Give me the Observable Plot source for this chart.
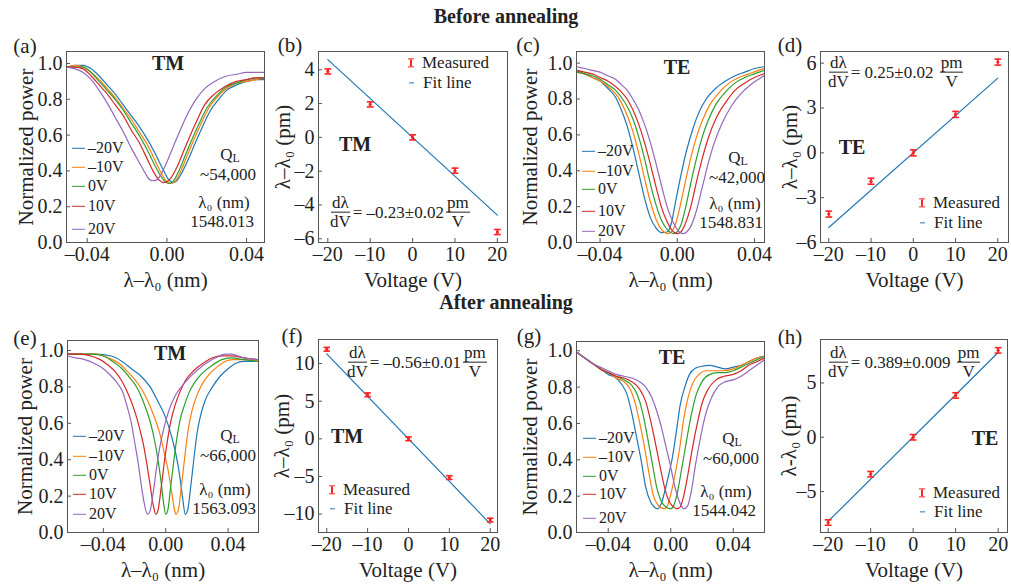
<!DOCTYPE html>
<html><head><meta charset="utf-8">
<script src="https://cdn.jsdelivr.net/npm/d3@7"></script>
<script src="https://cdn.jsdelivr.net/npm/@observablehq/plot@0.6"></script>
<style>
body{margin:0;background:#fff;}
#fig{position:relative;width:1011px;height:586px;overflow:hidden;font-family:"Liberation Serif","Times New Roman",serif;color:#222;background:#fff;}
.n{position:absolute;white-space:nowrap;line-height:0.9;}
.b{font-weight:bold;}
.frac{display:inline-flex;flex-direction:column;align-items:center;line-height:1.05;}
.frac>span:first-child{border-bottom:1px solid #222;padding:0 1px;}
.eq{display:flex;align-items:center;gap:2px;}
.sw{display:inline-block;width:13px;height:0;border-top:1.5px solid;vertical-align:middle;margin-right:3px;position:relative;top:-1px;}
.lg{display:flex;align-items:center;}
.eb{display:inline-block;width:6px;height:7px;border-top:1.5px solid #f22;border-bottom:1.5px solid #f22;position:relative;margin-right:8px;}
.eb:after{content:"";position:absolute;left:2.2px;top:0;width:1.6px;height:7px;background:#f22;}
.fl{display:inline-block;width:5px;border-top:1.5px solid #1f77b4;margin-right:9px;margin-left:1px;}
sub{font-size:0.7em;vertical-align:-0.15em;line-height:0;}
</style></head><body><div id="fig"></div>
<script>
// ---------- data ----------
const voltLabels = ["–20V", "–10V", "0V", "10V", "20V"];
const seriesColors = ["#1f77b4", "#ff7f0e", "#2ca02c", "#d62728", "#9467bd"];

// (a) TM, before annealing: [λ–λ0 (nm), normalized power]
const a_m20 = [[-0.050,0.98],[-0.046,0.99],[-0.042,0.99],[-0.038,0.97],[-0.034,0.93],[-0.030,0.88],[-0.026,0.83],[-0.022,0.77],[-0.018,0.71],[-0.014,0.65],[-0.010,0.58],[-0.006,0.50],[-0.002,0.41],[0.001,0.35],[0.003,0.335],[0.005,0.345],[0.008,0.40],[0.011,0.47],[0.014,0.55],[0.018,0.65],[0.022,0.74],[0.026,0.80],[0.030,0.85],[0.035,0.88],[0.040,0.90],[0.045,0.91],[0.049,0.91]];
const a_m10 = [[-0.050,0.98],[-0.046,0.99],[-0.042,0.98],[-0.038,0.95],[-0.034,0.91],[-0.030,0.86],[-0.026,0.81],[-0.022,0.75],[-0.018,0.69],[-0.014,0.62],[-0.010,0.55],[-0.006,0.46],[-0.003,0.39],[0.000,0.34],[0.002,0.33],[0.004,0.34],[0.007,0.40],[0.010,0.48],[0.013,0.56],[0.017,0.66],[0.021,0.75],[0.025,0.81],[0.030,0.86],[0.035,0.89],[0.040,0.90],[0.045,0.91],[0.049,0.92]];
const a_0 = [[-0.050,0.98],[-0.046,0.98],[-0.042,0.98],[-0.038,0.95],[-0.034,0.90],[-0.030,0.85],[-0.026,0.80],[-0.022,0.74],[-0.018,0.67],[-0.014,0.60],[-0.010,0.52],[-0.006,0.43],[-0.003,0.37],[-0.001,0.34],[0.001,0.33],[0.003,0.34],[0.006,0.40],[0.009,0.48],[0.012,0.56],[0.016,0.66],[0.020,0.75],[0.025,0.82],[0.030,0.87],[0.035,0.89],[0.040,0.91],[0.045,0.92],[0.049,0.92]];
const a_p10 = [[-0.050,0.98],[-0.046,0.98],[-0.042,0.97],[-0.038,0.93],[-0.034,0.88],[-0.030,0.83],[-0.026,0.77],[-0.022,0.71],[-0.018,0.63],[-0.014,0.56],[-0.010,0.47],[-0.007,0.40],[-0.004,0.35],[-0.002,0.335],[0.000,0.34],[0.002,0.36],[0.005,0.42],[0.008,0.50],[0.011,0.58],[0.015,0.68],[0.019,0.77],[0.024,0.83],[0.029,0.87],[0.035,0.90],[0.040,0.91],[0.045,0.92],[0.049,0.92]];
const a_p20 = [[-0.050,0.98],[-0.046,0.97],[-0.042,0.95],[-0.038,0.91],[-0.034,0.85],[-0.030,0.78],[-0.026,0.70],[-0.022,0.62],[-0.018,0.53],[-0.014,0.45],[-0.011,0.39],[-0.009,0.355],[-0.007,0.345],[-0.005,0.35],[-0.003,0.38],[0.000,0.45],[0.003,0.53],[0.006,0.61],[0.010,0.71],[0.014,0.79],[0.019,0.86],[0.024,0.90],[0.030,0.93],[0.035,0.94],[0.040,0.95],[0.045,0.95],[0.049,0.95]];

// (c) TE, before annealing
const c_m20 = [[-0.052,0.96],[-0.048,0.94],[-0.044,0.92],[-0.040,0.90],[-0.036,0.86],[-0.032,0.81],[-0.029,0.74],[-0.026,0.65],[-0.023,0.53],[-0.020,0.39],[-0.017,0.25],[-0.014,0.14],[-0.011,0.08],[-0.008,0.055],[-0.005,0.06],[-0.003,0.11],[-0.001,0.22],[0.002,0.38],[0.005,0.52],[0.008,0.63],[0.011,0.72],[0.015,0.80],[0.020,0.86],[0.025,0.90],[0.030,0.93],[0.035,0.95],[0.040,0.97],[0.045,0.98]];
const c_m10 = [[-0.052,0.95],[-0.048,0.94],[-0.044,0.92],[-0.040,0.90],[-0.036,0.87],[-0.032,0.83],[-0.029,0.78],[-0.026,0.71],[-0.023,0.62],[-0.020,0.50],[-0.017,0.36],[-0.014,0.23],[-0.011,0.13],[-0.008,0.07],[-0.005,0.05],[-0.003,0.06],[-0.001,0.10],[0.001,0.18],[0.004,0.33],[0.007,0.47],[0.010,0.59],[0.013,0.68],[0.017,0.77],[0.022,0.84],[0.027,0.89],[0.032,0.92],[0.037,0.94],[0.042,0.96],[0.045,0.97]];
const c_0 = [[-0.052,0.95],[-0.048,0.94],[-0.044,0.93],[-0.040,0.91],[-0.036,0.88],[-0.032,0.85],[-0.029,0.81],[-0.026,0.76],[-0.023,0.69],[-0.020,0.59],[-0.017,0.47],[-0.014,0.33],[-0.011,0.21],[-0.008,0.12],[-0.005,0.07],[-0.002,0.05],[0.000,0.06],[0.002,0.10],[0.004,0.18],[0.007,0.33],[0.010,0.47],[0.013,0.59],[0.016,0.68],[0.020,0.77],[0.025,0.84],[0.030,0.89],[0.035,0.92],[0.040,0.94],[0.045,0.96]];
const c_p10 = [[-0.052,0.96],[-0.048,0.95],[-0.044,0.94],[-0.040,0.92],[-0.036,0.90],[-0.032,0.87],[-0.029,0.84],[-0.026,0.80],[-0.023,0.74],[-0.020,0.66],[-0.017,0.56],[-0.014,0.44],[-0.011,0.31],[-0.008,0.19],[-0.005,0.11],[-0.002,0.06],[0.000,0.05],[0.002,0.06],[0.004,0.10],[0.007,0.20],[0.010,0.34],[0.013,0.47],[0.016,0.58],[0.020,0.69],[0.025,0.78],[0.030,0.85],[0.035,0.89],[0.040,0.92],[0.045,0.94]];
const c_p20 = [[-0.052,0.98],[-0.048,0.97],[-0.044,0.96],[-0.040,0.95],[-0.036,0.93],[-0.032,0.91],[-0.029,0.88],[-0.026,0.85],[-0.023,0.80],[-0.020,0.74],[-0.017,0.66],[-0.014,0.56],[-0.011,0.44],[-0.008,0.31],[-0.005,0.19],[-0.002,0.11],[0.001,0.06],[0.003,0.05],[0.005,0.06],[0.007,0.09],[0.010,0.18],[0.013,0.31],[0.016,0.44],[0.019,0.55],[0.023,0.66],[0.028,0.76],[0.033,0.83],[0.038,0.88],[0.042,0.91],[0.045,0.93]];

// (e) TM, after annealing
const e_m20 = [[-0.063,0.98],[-0.055,0.98],[-0.045,0.98],[-0.035,0.97],[-0.028,0.94],[-0.022,0.90],[-0.016,0.86],[-0.010,0.80],[-0.005,0.72],[0.000,0.63],[0.004,0.52],[0.007,0.41],[0.009,0.31],[0.011,0.18],[0.0125,0.10],[0.014,0.12],[0.016,0.25],[0.018,0.40],[0.020,0.54],[0.022,0.63],[0.025,0.72],[0.030,0.80],[0.035,0.86],[0.040,0.90],[0.045,0.93],[0.050,0.94],[0.0595,0.94]];
const e_m10 = [[-0.063,0.98],[-0.055,0.98],[-0.045,0.98],[-0.037,0.96],[-0.030,0.93],[-0.024,0.88],[-0.018,0.82],[-0.013,0.75],[-0.008,0.65],[-0.004,0.55],[-0.001,0.44],[0.002,0.32],[0.004,0.21],[0.0055,0.13],[0.0065,0.10],[0.008,0.12],[0.010,0.25],[0.012,0.40],[0.014,0.54],[0.016,0.64],[0.019,0.73],[0.023,0.81],[0.028,0.87],[0.033,0.91],[0.038,0.94],[0.043,0.95],[0.050,0.95],[0.0595,0.94]];
const e_0 = [[-0.063,0.98],[-0.055,0.98],[-0.047,0.98],[-0.040,0.97],[-0.034,0.94],[-0.028,0.90],[-0.023,0.85],[-0.018,0.79],[-0.014,0.71],[-0.010,0.61],[-0.007,0.50],[-0.005,0.40],[-0.003,0.28],[-0.0015,0.17],[0.000,0.10],[0.0015,0.13],[0.003,0.24],[0.005,0.38],[0.007,0.51],[0.009,0.61],[0.012,0.70],[0.015,0.77],[0.019,0.83],[0.024,0.88],[0.030,0.92],[0.036,0.95],[0.042,0.96],[0.050,0.95],[0.0595,0.94]];
const e_p10 = [[-0.063,0.98],[-0.055,0.98],[-0.048,0.97],[-0.042,0.95],[-0.037,0.92],[-0.032,0.88],[-0.028,0.83],[-0.024,0.76],[-0.020,0.67],[-0.017,0.58],[-0.014,0.47],[-0.012,0.37],[-0.010,0.26],[-0.008,0.15],[-0.0063,0.10],[-0.005,0.12],[-0.003,0.24],[-0.001,0.38],[0.001,0.50],[0.003,0.60],[0.006,0.70],[0.009,0.77],[0.013,0.84],[0.018,0.89],[0.024,0.93],[0.030,0.96],[0.036,0.97],[0.042,0.97],[0.050,0.96],[0.0595,0.95]];
const e_p20 = [[-0.063,0.97],[-0.058,0.96],[-0.052,0.95],[-0.046,0.93],[-0.040,0.90],[-0.035,0.86],[-0.031,0.82],[-0.028,0.78],[-0.025,0.70],[-0.022,0.60],[-0.020,0.50],[-0.018,0.40],[-0.016,0.28],[-0.014,0.17],[-0.0117,0.10],[-0.010,0.12],[-0.008,0.22],[-0.006,0.35],[-0.004,0.46],[-0.001,0.58],[0.002,0.67],[0.006,0.75],[0.010,0.80],[0.015,0.85],[0.020,0.89],[0.026,0.93],[0.032,0.96],[0.038,0.98],[0.042,0.98],[0.050,0.96],[0.0595,0.95]];

// (g) TE, after annealing
const g_m20 = [[-0.060,0.99],[-0.055,0.96],[-0.050,0.93],[-0.045,0.90],[-0.040,0.87],[-0.035,0.85],[-0.031,0.81],[-0.028,0.76],[-0.025,0.66],[-0.022,0.53],[-0.019,0.40],[-0.016,0.25],[-0.013,0.17],[-0.0105,0.14],[-0.0085,0.13],[-0.006,0.16],[-0.004,0.22],[-0.001,0.33],[0.001,0.41],[0.004,0.58],[0.006,0.70],[0.009,0.80],[0.012,0.87],[0.016,0.905],[0.020,0.915],[0.025,0.92],[0.030,0.91],[0.035,0.90],[0.040,0.91],[0.045,0.92],[0.050,0.94],[0.055,0.96],[0.060,0.97]];
const g_m10 = [[-0.060,0.99],[-0.055,0.96],[-0.050,0.93],[-0.045,0.90],[-0.040,0.88],[-0.035,0.85],[-0.030,0.83],[-0.026,0.79],[-0.023,0.72],[-0.020,0.61],[-0.017,0.48],[-0.014,0.33],[-0.011,0.20],[-0.008,0.15],[-0.004,0.13],[-0.002,0.15],[0.000,0.21],[0.003,0.33],[0.006,0.48],[0.008,0.61],[0.011,0.74],[0.014,0.82],[0.018,0.87],[0.023,0.89],[0.028,0.89],[0.033,0.89],[0.040,0.90],[0.045,0.92],[0.050,0.94],[0.055,0.96],[0.060,0.97]];
const g_0 = [[-0.060,0.99],[-0.055,0.96],[-0.050,0.93],[-0.045,0.90],[-0.040,0.88],[-0.035,0.86],[-0.030,0.84],[-0.025,0.81],[-0.021,0.75],[-0.018,0.66],[-0.015,0.53],[-0.012,0.39],[-0.009,0.25],[-0.006,0.17],[-0.003,0.14],[0.000,0.13],[0.002,0.15],[0.004,0.21],[0.007,0.35],[0.010,0.50],[0.013,0.64],[0.016,0.75],[0.020,0.83],[0.025,0.87],[0.030,0.88],[0.035,0.88],[0.040,0.89],[0.045,0.91],[0.050,0.93],[0.055,0.95],[0.060,0.97]];
const g_p10 = [[-0.060,0.99],[-0.055,0.96],[-0.050,0.93],[-0.045,0.90],[-0.040,0.88],[-0.035,0.86],[-0.030,0.85],[-0.025,0.83],[-0.020,0.79],[-0.016,0.72],[-0.013,0.62],[-0.010,0.50],[-0.007,0.37],[-0.004,0.25],[-0.001,0.17],[0.002,0.14],[0.004,0.13],[0.006,0.14],[0.008,0.19],[0.011,0.32],[0.014,0.47],[0.017,0.60],[0.020,0.71],[0.024,0.79],[0.029,0.84],[0.034,0.86],[0.040,0.87],[0.045,0.89],[0.050,0.92],[0.055,0.94],[0.060,0.96]];
const g_p20 = [[-0.060,0.99],[-0.055,0.96],[-0.050,0.93],[-0.045,0.91],[-0.040,0.89],[-0.035,0.87],[-0.030,0.86],[-0.025,0.85],[-0.020,0.83],[-0.016,0.80],[-0.012,0.74],[-0.009,0.67],[-0.006,0.58],[-0.003,0.47],[0.000,0.36],[0.003,0.24],[0.006,0.16],[0.0085,0.13],[0.011,0.15],[0.013,0.22],[0.016,0.38],[0.019,0.52],[0.022,0.64],[0.026,0.74],[0.030,0.80],[0.035,0.83],[0.040,0.84],[0.045,0.86],[0.050,0.89],[0.055,0.92],[0.060,0.95]];

// wavelength shift vs voltage panels
const voltages = [-20, -10, 0, 10, 20];
const b_shift = [3.9, 1.95, 0.0, -1.97, -5.6];
const b_err = [0.15, 0.15, 0.15, 0.15, 0.15];
const d_shift = [-4.1, -1.9, 0.0, 2.57, 6.07];
const d_err = [0.2, 0.2, 0.2, 0.2, 0.2];
const f_shift = [11.9, 5.85, 0.0, -5.15, -10.8];
const f_err = [0.25, 0.25, 0.25, 0.25, 0.25];
const h_shift = [-7.85, -3.4, 0.0, 3.85, 8.0];
const h_err = [0.25, 0.25, 0.25, 0.25, 0.25];
const fitV = [-20, 20];
const b_fit = [4.6, -4.6];
const d_fit = [-5.0, 5.0];
const f_fit = [11.3, -11.3];
const h_fit = [-7.75, 7.8];

const specXTicks = [-0.04, 0, 0.04];
const specYTicks = [0, 0.2, 0.4, 0.6, 0.8, 1.0];
const voltTicks = [-20, -10, 0, 10, 20];
const b_yTicks = [-6, -4, -2, 0, 2, 4];
const d_yTicks = [-6, -3, 0, 3, 6];
const f_yTicks = [-10, -5, 0, 5, 10];
const h_yTicks = [-5, 0, 5];

// ---------- drawing ----------
const FONT = '"Liberation Serif","Times New Roman",serif';
const RED = "#f22";
const FIT = "#1f77b4";
const fig = document.getElementById("fig");
const dash = (d, n) => { const s = n == null ? String(Math.abs(d)) : Math.abs(d).toFixed(n); return d < 0 ? "–" + s : s; };

function panel(cfg) {
  const [L, T, R, B] = cfg.frame;
  const mL = 70, mT = 10, mR = 10, mB = 60;
  const svg = Plot.plot({
    width: R - L + mL + mR, height: B - T + mT + mB,
    marginLeft: mL, marginTop: mT, marginRight: mR, marginBottom: mB,
    x: {domain: cfg.xDomain}, y: {domain: cfg.yDomain},
    style: {fontFamily: FONT, fontSize: "20px", background: "transparent", overflow: "visible", color: "#222"},
    marks: [
      ...cfg.marks,
      Plot.frame({stroke: "#555", strokeWidth: 1}),
      Plot.axisX(cfg.xTicks, {tickSize: -4, tickFormat: () => "", label: null, stroke: "#555"}),
      Plot.axisX(cfg.xTicks, {tickSize: 0, tickPadding: 4, tickFormat: cfg.xFmt, label: null, fontSize: 20, fontFamily: FONT, fill: "#222"}),
      Plot.axisY(cfg.yTicks, {tickSize: -4, tickFormat: () => "", label: null, stroke: "#555"}),
      Plot.axisY(cfg.yTicks, {tickSize: 0, tickPadding: 4, tickFormat: cfg.yFmt, label: null, fontSize: 20, fontFamily: FONT, fill: "#222"}),
      Plot.text([cfg.xLabel], {text: d => d, frameAnchor: "bottom", dy: 38, lineAnchor: "middle", textAnchor: "middle", fontSize: 21, fontFamily: FONT, fill: "#222"}),
      Plot.text([cfg.yLabel], {text: d => d, frameAnchor: "left", dx: -cfg.yDx, rotate: -90, lineAnchor: "middle", textAnchor: "middle", fontSize: 21, fontFamily: FONT, fill: "#222"})
    ]
  });
  svg.style.position = "absolute";
  svg.style.left = (L - mL) + "px";
  svg.style.top = (T - mT) + "px";
  fig.appendChild(svg);
}

function specMarks(curves) {
  return curves.map((c, i) => Plot.line(c, {x: d => d[0], y: d => d[1], stroke: seriesColors[i], strokeWidth: 1.2, curve: "monotone-x", clip: true}));
}
function shiftMarks(shift, err, fit) {
  const rows = voltages.map((v, i) => ({v, y: shift[i], e: err[i]}));
  const fitRows = fitV.map((v, i) => ({v, y: fit[i]}));
  const cap = 0.8;
  return [
    Plot.line(fitRows, {x: "v", y: "y", stroke: FIT, strokeWidth: 1.2}),
    Plot.ruleX(rows, {x: "v", y1: d => d.y - d.e, y2: d => d.y + d.e, stroke: RED, strokeWidth: 1.6}),
    Plot.link(rows, {x1: d => d.v - cap, x2: d => d.v + cap, y1: d => d.y + d.e, y2: d => d.y + d.e, stroke: RED, strokeWidth: 1.6}),
    Plot.link(rows, {x1: d => d.v - cap, x2: d => d.v + cap, y1: d => d.y - d.e, y2: d => d.y - d.e, stroke: RED, strokeWidth: 1.6}),
    Plot.dot(rows, {x: "v", y: "y", r: 1.6, fill: RED})
  ];
}

const specFmtX = d => dash(d, 2);
const specFmtY = d => d.toFixed(1);
const voltFmt = d => dash(d);
const LX = "λ–λ₀ (nm)", LV = "Voltage (V)", LP = "Normalized power";

panel({frame: [66, 51, 264, 242], xDomain: [-0.0504, 0.049], yDomain: [0, 1.067], xTicks: specXTicks, yTicks: specYTicks,
  xFmt: specFmtX, yFmt: specFmtY, xLabel: LX, yLabel: LP, yDx: 40, marks: specMarks([a_m20, a_m10, a_0, a_p10, a_p20])});
panel({frame: [318, 51, 507, 242], xDomain: [-22.2, 22.4], yDomain: [-6.22, 5.08], xTicks: voltTicks, yTicks: b_yTicks,
  xFmt: voltFmt, yFmt: voltFmt, xLabel: LV, yLabel: "λ–λ₀ (pm)", yDx: 35, marks: shiftMarks(b_shift, b_err, b_fit)});
panel({frame: [576, 51, 764, 242], xDomain: [-0.0522, 0.0452], yDomain: [0, 1.065], xTicks: specXTicks, yTicks: specYTicks,
  xFmt: specFmtX, yFmt: specFmtY, xLabel: LX, yLabel: LP, yDx: 46, marks: specMarks([c_m20, c_m10, c_0, c_p10, c_p20])});
panel({frame: [820, 51, 1008, 242], xDomain: [-21.96, 22.53], yDomain: [-6, 6.78], xTicks: voltTicks, yTicks: d_yTicks,
  xFmt: voltFmt, yFmt: voltFmt, xLabel: LV, yLabel: "λ–λ₀ (pm)", yDx: 30, marks: shiftMarks(d_shift, d_err, d_fit)});
panel({frame: [67, 340, 258, 532], xDomain: [-0.063, 0.0595], yDomain: [0, 1.055], xTicks: specXTicks, yTicks: specYTicks,
  xFmt: specFmtX, yFmt: specFmtY, xLabel: LX, yLabel: LP, yDx: 42, marks: specMarks([e_m20, e_m10, e_0, e_p10, e_p20])});
panel({frame: [318, 339, 497, 532], xDomain: [-22.02, 21.78], yDomain: [-12.45, 13.2], xTicks: voltTicks, yTicks: f_yTicks,
  xFmt: voltFmt, yFmt: voltFmt, xLabel: LV, yLabel: "λ–λ₀ (pm)", yDx: 36, marks: shiftMarks(f_shift, f_err, f_fit)});
panel({frame: [576, 341, 764, 532], xDomain: [-0.0603, 0.06], yDomain: [0, 1.051], xTicks: specXTicks, yTicks: specYTicks,
  xFmt: specFmtX, yFmt: specFmtY, xLabel: LX, yLabel: LP, yDx: 46, marks: specMarks([g_m20, g_m10, g_0, g_p10, g_p20])});
panel({frame: [820, 339, 1007, 532], xDomain: [-21.8, 22.2], yDomain: [-8.77, 9.0], xTicks: voltTicks, yTicks: h_yTicks,
  xFmt: voltFmt, yFmt: voltFmt, xLabel: LV, yLabel: "λ-λ₀ (pm)", yDx: 31, marks: shiftMarks(h_shift, h_err, h_fit)});

// ---------- annotations ----------
function note(x, y, html, size, align = "c", cls = "") {
  const el = document.createElement("div");
  el.className = "n " + cls;
  el.innerHTML = html;
  el.style.left = x + "px";
  el.style.top = y + "px";
  el.style.fontSize = size + "px";
  el.style.transform = align === "c" ? "translate(-50%,-50%)" : align === "l" ? "translate(0,-50%)" : "translate(-100%,-50%)";
  fig.appendChild(el);
}

note(506, 16, "Before annealing", 20, "c", "b");
note(506, 302, "After annealing", 20, "c", "b");
[["(a)",25,46],["(b)",290,45],["(c)",528,45],["(d)",790,45],["(e)",25,338],["(f)",292,336],["(g)",529,336],["(h)",790,337]]
  .forEach(([t, x, y]) => note(x, y, t, 21));
[["TM",168,63],["TE",677,67],["TM",170,353],["TE",672,357],["TM",355,144],["TE",852,147],["TM",347,436],["TE",985,438]]
  .forEach(([t, x, y]) => note(x, y, t, 20, "c", "b"));

const qNotes = [
  [230,155,228,175,"~54,000",224,203,222,222,"1548.013"],
  [738,158,737,178,"~42,000",735,204,731,223,"1548.831"],
  [230,436,228,456,"~66,000",225,490,224,509,"1563.093"],
  [732,439,731,459,"~60,000",726,492,724,511,"1544.042"]
];
qNotes.forEach(q => {
  note(q[0], q[1], "Q<sub>L</sub>", 17);
  note(q[2], q[3], q[4], 17);
  note(q[5], q[6], "λ₀ (nm)", 17);
  note(q[7], q[8], q[9], 17);
});

const specLegends = [[72,[148,167,186,206,229]],[582,[151,171,189,211,231]],[73,[436,456,475,494,514]],[583,[438,457,476,494,518]]];
specLegends.forEach(([x, ys]) => ys.forEach((y, i) =>
  note(x, y, `<span class="sw" style="border-top-color:${seriesColors[i]}"></span>${voltLabels[i]}`, 16, "l")));

[[408,63,83],[919,203,223],[329,490,509],[919,493,512]].forEach(([x, y1, y2]) => {
  note(x, y1, `<span class="lg"><span class="eb"></span>Measured</span>`, 17, "l");
  note(x, y2, `<span class="lg"><span class="fl"></span>Fit line</span>`, 17, "l");
});

const frac = (a, b) => `<span class="frac"><span>${a}</span><span>${b}</span></span>`;
[[330,212,"=&nbsp;–0.23±0.02",""],[828,72,"=&nbsp;0.25±0.02","&nbsp;"],[347,362,"=&nbsp;–0.56±0.01",""],[828,362,"=&nbsp;0.389±0.009","&nbsp;"]]
  .forEach(([x, y, mid, sp]) => note(x, y, `<span class="eq">${frac("dλ","dV")}<span>${mid}${sp}</span>${frac("pm","V")}</span>`, 17, "l"));
</script></body></html>
